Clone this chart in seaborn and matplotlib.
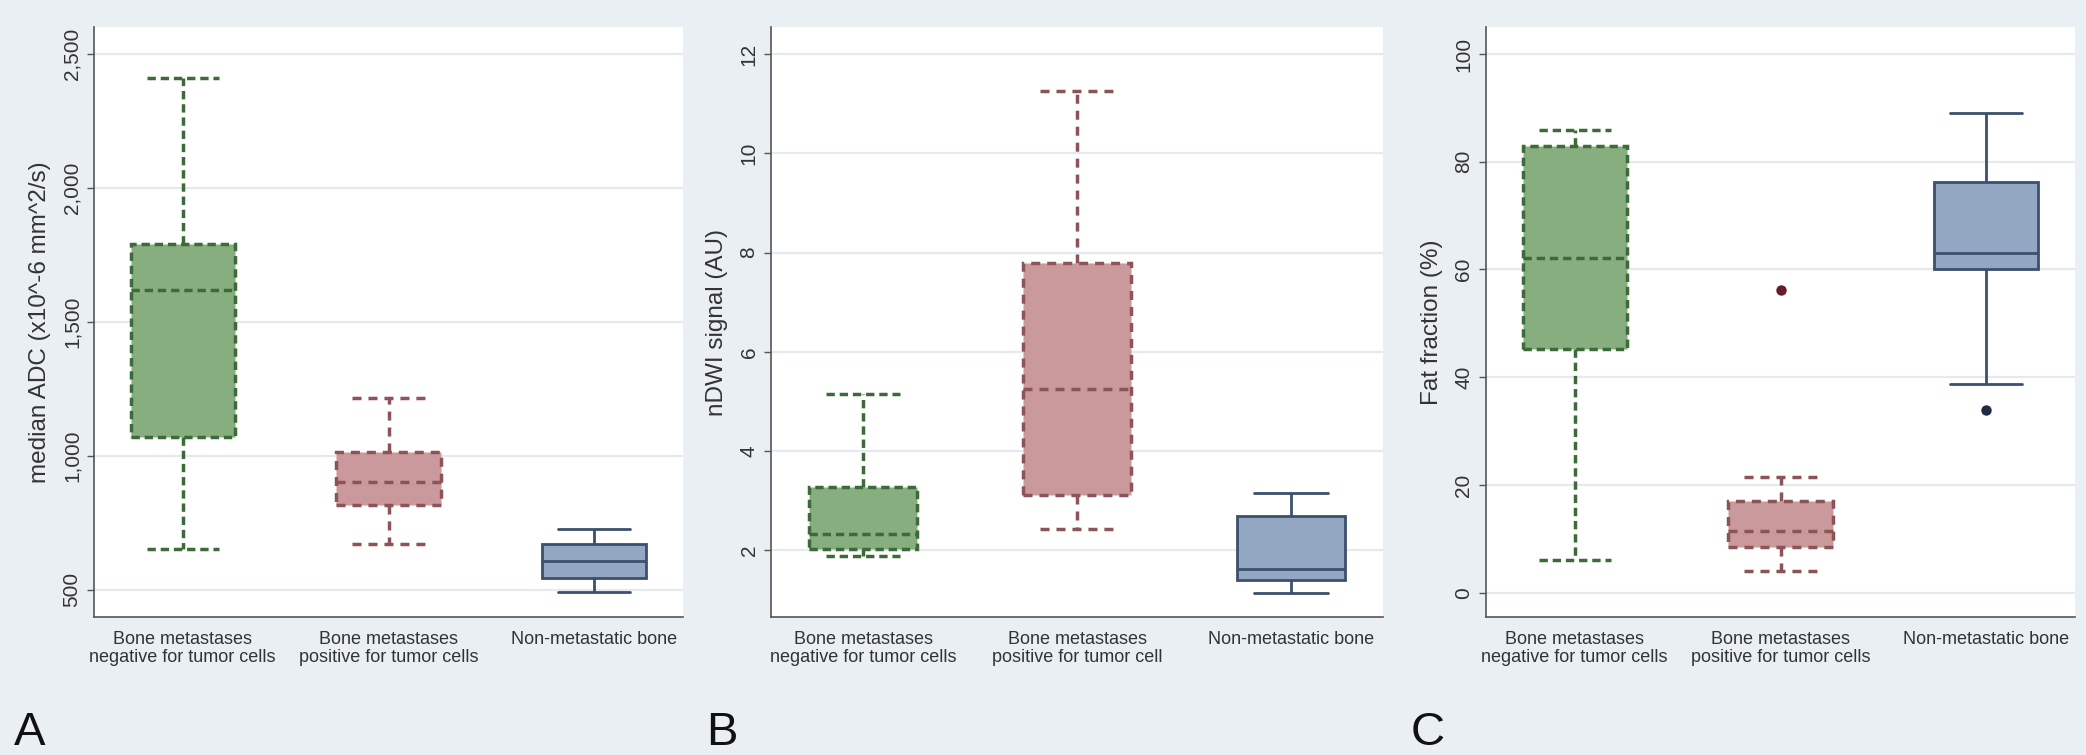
import numpy as np
import pandas as pd
import matplotlib
matplotlib.use("Agg")
import matplotlib.pyplot as plt
import seaborn as sns

# ---------------- data ----------------
groups = ["neg", "pos", "non"]
xlabels_A = ["Bone metastases\nnegative for tumor cells",
             "Bone metastases\npositive for tumor cells",
             "Non-metastatic bone"]
xlabels_B = ["Bone metastases\nnegative for tumor cells",
             "Bone metastases\npositive for tumor cell",
             "Non-metastatic bone"]
xlabels_C = ["Bone metastases\nnegative for tumor cells",
             "Bone metastases\npositive for tumor cells",
             "Non-metastatic bone"]

# five-number summaries: lower whisker, Q1, median, Q3, upper whisker
adc_neg = [650, 1070, 1620, 1790, 2410]
adc_pos = [670, 815, 900, 1015, 1215]
adc_non = [490, 543, 607, 670, 728]

dwi_neg = [1.88, 2.02, 2.32, 3.28, 5.14]
dwi_pos = [2.42, 3.12, 5.24, 7.78, 11.25]
dwi_non = [1.14, 1.40, 1.61, 2.69, 3.16]

ff_neg = [6.0, 45.2, 62.2, 83.0, 85.9]
ff_pos = [4.0, 8.5, 11.4, 17.1, 21.4]
ff_non = [38.8, 60.1, 63.0, 76.3, 89.1]
ff_outlier_groups = ["pos", "non"]
ff_outlier_values = [56.1, 34.0]

yticks_A = [500, 1000, 1500, 2000, 2500]
yticklabels_A = ["500", "1,000", "1,500", "2,000", "2,500"]
yticks_B = [2, 4, 6, 8, 10, 12]
yticklabels_B = ["2", "4", "6", "8", "10", "12"]
yticks_C = [0, 20, 40, 60, 80, 100]
yticklabels_C = ["0", "20", "40", "60", "80", "100"]

ylabel_A = "median ADC (x10^-6 mm^2/s)"
ylabel_B = "nDWI signal (AU)"
ylabel_C = "Fat fraction (%)"

# ---------------- style ----------------
sns.set_theme(style="white")
plt.rcParams["font.family"] = ["Liberation Sans", "DejaVu Sans"]

FIG_BG = "#e9eff2"
styles = {
    "neg": dict(fill="#87ae7e", edge="#3c6a39", ls=(0, (2.4, 1.4))),
    "pos": dict(fill="#c9999b", edge="#8e5357", ls=(0, (2.6, 2.0))),
    "non": dict(fill="#93a7c2", edge="#3c4f6e", ls="-"),
}
outlier_colors = {"pos": "#6b1a2a", "non": "#1f2a44"}

W, H = 2086, 755
fig = plt.figure(figsize=(W / 100, H / 100), dpi=100, facecolor=FIG_BG)


def px_axes(left, right, top, bottom):
    return fig.add_axes([left / W, 1 - bottom / H, (right - left) / W, (bottom - top) / H])


def panel(ax, vals, xlabels, yticks, yticklabels, ylim, ylabel, outliers=None):
    df = pd.DataFrame({
        "group": np.repeat(groups, 5),
        "value": np.concatenate([vals[0], vals[1], vals[2]]),
    })
    ax.set_facecolor("white")
    for yt in yticks:
        ax.axhline(yt, color="#e4eaee", lw=1.6, zorder=0)
    for g in groups:
        st = styles[g]
        lw = 2.5 if st["ls"] != "-" else 2.0
        sub = df[df["group"] == g]
        sns.boxplot(data=sub, x="group", y="value", order=groups, ax=ax,
                    color=st["fill"], linecolor=st["edge"], linewidth=lw,
                    width=0.505, whis=(0, 100), saturation=1, showfliers=False,
                    capwidths=0.35,
                    boxprops=dict(linestyle=st["ls"]),
                    whiskerprops=dict(linestyle=st["ls"]),
                    capprops=dict(linestyle=st["ls"]),
                    medianprops=dict(linestyle=st["ls"], color=st["edge"]))
    if outliers is not None:
        og, ov = outliers
        sns.stripplot(x=og, y=ov, order=groups, hue=og, palette=outlier_colors,
                      jitter=False, size=7.5, legend=False, ax=ax, zorder=5)
    ax.set_xlim(-0.43, 2.43)
    ax.set_ylim(*ylim)
    ax.set_yticks(yticks)
    ax.set_yticklabels(yticklabels, rotation=90, va="center", fontsize=15, color="#333333")
    ax.set_xticks(range(len(groups)))
    ax.set_xticklabels(xlabels, fontsize=13, color="#333333", linespacing=1.05)
    ax.set_xlabel("")
    ax.set_ylabel(ylabel, fontsize=17.5, color="#333333", labelpad=8)
    for s in ["top", "right"]:
        ax.spines[s].set_visible(False)
    for s in ["left", "bottom"]:
        ax.spines[s].set_color("#555555")
        ax.spines[s].set_linewidth(1.2)
    ax.tick_params(axis="y", length=5, width=1.0, color="#555555", pad=4, left=True)
    ax.tick_params(axis="x", length=0, pad=10)


axA = px_axes(94, 683, 27, 617)
axB = px_axes(771, 1383, 27, 617)
axC = px_axes(1486, 2075, 27, 617)

panel(axA, [adc_neg, adc_pos, adc_non], xlabels_A, yticks_A, yticklabels_A,
      (398, 2600), ylabel_A)
panel(axB, [dwi_neg, dwi_pos, dwi_non], xlabels_B, yticks_B, yticklabels_B,
      (0.65, 12.55), ylabel_B)
panel(axC, [ff_neg, ff_pos, ff_non], xlabels_C, yticks_C, yticklabels_C,
      (-4.5, 105), ylabel_C, outliers=(ff_outlier_groups, ff_outlier_values))

for letter, xpx in [("A", 14), ("B", 706), ("C", 1411)]:
    fig.text(xpx / W, 1 - 745 / H, letter, fontsize=34, color="#111111",
             ha="left", va="baseline")

fig.savefig("out.png", dpi=100, facecolor=FIG_BG)
